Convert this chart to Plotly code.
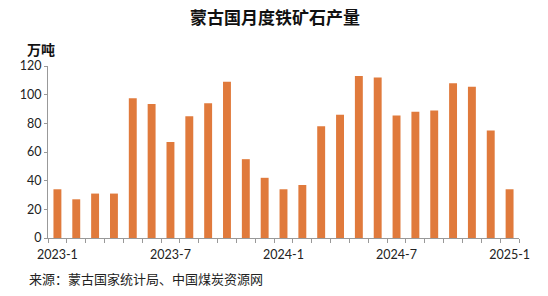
import plotly.graph_objects as go

months = ["2023-1","2023-2","2023-3","2023-4","2023-5","2023-6","2023-7","2023-8","2023-9","2023-10","2023-11","2023-12",
          "2024-1","2024-2","2024-3","2024-4","2024-5","2024-6","2024-7","2024-8","2024-9","2024-10","2024-11","2024-12","2025-1"]
values = [34, 27, 31, 31, 97.5, 93.5, 67, 85, 94, 109, 55, 42,
          34, 37, 78, 86, 113, 112, 85.5, 88, 89, 108, 105.5, 75, 34]
tick_labels = ["2023-1", "2023-7", "2024-1", "2024-7", "2025-1"]

x = list(range(len(months)))
label_pos = [months.index(t) for t in tick_labels]

fig = go.Figure(go.Bar(x=x, y=values, width=0.42, marker=dict(color="#E07A3C", line=dict(width=0)),
                       customdata=months, hovertemplate="%{customdata}: %{y}<extra></extra>"))

font_cjk = "Noto Sans CJK SC"
fig.update_layout(
    width=548, height=296,
    margin=dict(l=48, r=29, t=66, b=58),
    paper_bgcolor="white", plot_bgcolor="white",
    showlegend=False,
    title=dict(text="<b>蒙古国月度铁矿石产量</b>", x=0.502, xanchor="center", y=0.94, yanchor="middle",
               font=dict(family=font_cjk, size=17, color="#111")),
    xaxis=dict(range=[-0.5, len(months) - 0.5], tickmode="array", tickvals=label_pos, ticktext=tick_labels,
               ticks="", showline=True, linecolor="#999", linewidth=1, showgrid=False, zeroline=False,
               ticklabelstandoff=5,
               tickfont=dict(family="Lato, DejaVu Sans", size=12.5, color="#222"),
               minor=dict(tickmode="array", tickvals=[i - 0.5 for i in range(len(months) + 1)],
                          ticks="outside", ticklen=4, tickcolor="#999", tickwidth=1)),
    yaxis=dict(range=[0, 120], tickmode="linear", dtick=20, ticks="outside", ticklen=3, tickcolor="#999",
               showline=True, linecolor="#999", linewidth=1, showgrid=False, zeroline=False,
               tickfont=dict(family="Lato, DejaVu Sans", size=12.5, color="#222")),
)
fig.add_annotation(text="<b>万吨</b>", xref="paper", yref="paper", x=-0.0145, y=1.10, xanchor="center", yanchor="middle",
                   showarrow=False, font=dict(family=font_cjk, size=14, color="#111"))
fig.add_annotation(text="来源：蒙古国家统计局、中国煤炭资源网", xref="paper", yref="paper", x=-0.045, y=-0.238, xanchor="left",
                   yanchor="middle", showarrow=False, font=dict(family=font_cjk, size=13, color="#222"))
fig.write_html("out.html")
